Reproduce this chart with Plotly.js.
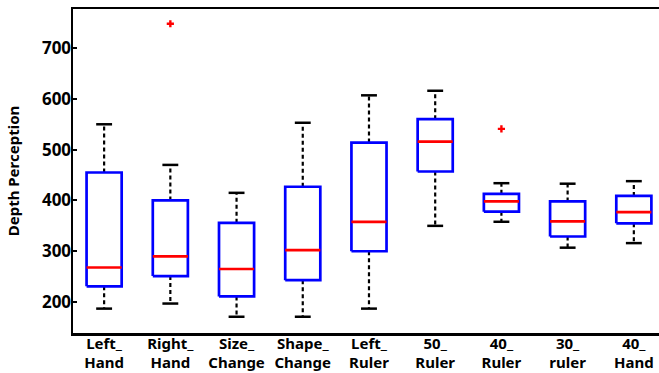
<!DOCTYPE html>
<html>
<head>
<meta charset="utf-8">
<script src="https://cdn.plot.ly/plotly-3.0.1.min.js"></script>
<style>html,body{margin:0;padding:0;background:#fff}#chart{width:659px;height:373px}</style>
</head>
<body>
<div id="chart"></div>
<script>
var categories = ['Left_<br>Hand','Right_<br>Hand','Size_<br>Change','Shape_<br>Change','Left_<br>Ruler','50_<br>Ruler','40_<br>Ruler','30_<br>ruler','40_<br>Hand'];
var lowerWhisker = [187, 197, 171, 171, 187, 350, 358, 307, 316];
var q1           = [231, 251, 211, 243, 300, 457, 378, 329, 355];
var median       = [268, 290, 265, 302, 358, 516, 398, 359, 377];
var q3           = [455, 400, 356, 427, 514, 560, 413, 398, 409];
var upperWhisker = [550, 470, 415, 553, 607, 616, 434, 433, 438];
var outlierCat   = [1, 6];
var outlierVal   = [748, 541];
var yTicks = [200, 300, 400, 500, 600, 700];

var BW = 0.265, CW = 0.12;
var pos = categories.map(function(_, i){ return i; });

var wx = [], wy = [], cx = [], cy = [], bx = [], by = [], mx = [], my = [];
pos.forEach(function(p, i){
  wx.push(p, p, null, p, p, null);
  wy.push(q3[i], upperWhisker[i], null, q1[i], lowerWhisker[i], null);
  cx.push(p-CW, p+CW, null, p-CW, p+CW, null);
  cy.push(upperWhisker[i], upperWhisker[i], null, lowerWhisker[i], lowerWhisker[i], null);
  bx.push(p-BW, p+BW, p+BW, p-BW, p-BW, null);
  by.push(q1[i], q1[i], q3[i], q3[i], q1[i], null);
  mx.push(p-BW, p+BW, null);
  my.push(median[i], median[i], null);
});

var traces = [
  {x: wx, y: wy, mode: 'lines', line: {color: '#000', width: 2.2, dash: '4px,3px'}, hoverinfo: 'skip'},
  {x: cx, y: cy, mode: 'lines', line: {color: '#000', width: 2.5}, hoverinfo: 'skip'},
  {x: bx, y: by, mode: 'lines', line: {color: '#0000ff', width: 2.7}, hoverinfo: 'skip'},
  {x: mx, y: my, mode: 'lines', line: {color: '#ff0000', width: 2.7}, hoverinfo: 'skip'},
  {x: outlierCat, y: outlierVal, mode: 'markers', marker: {symbol: 'cross', color: '#ff0000', size: 6, line: {width: 0}}, hoverinfo: 'skip'}
];

var fontFam = '"Noto Sans", "Open Sans", sans-serif';
var layout = {
  width: 659, height: 373,
  margin: {l: 73, r: 0, t: 9, b: 40, pad: 0},
  paper_bgcolor: '#fff', plot_bgcolor: '#fff',
  showlegend: false,
  xaxis: {
    range: [-0.47, 8.38],
    tickvals: pos, ticktext: categories,
    showgrid: false, zeroline: false,
    showline: true, mirror: true, linecolor: '#000', linewidth: 2.5,
    ticks: '',
    ticklabelstandoff: -5,
    tickfont: {family: fontFam, size: 15, color: '#000', weight: 'bold'}
  },
  yaxis: {
    range: [139, 777],
    tickvals: yTicks,
    showgrid: false, zeroline: false,
    showline: true, linecolor: '#000', linewidth: 2.5,
    ticks: 'inside', ticklen: 4, tickwidth: 2, tickcolor: '#000',
    ticklabelstandoff: -4,
    tickfont: {family: fontFam, size: 17, color: '#000', weight: 'bold'},
    title: {text: 'Depth Perception', font: {family: fontFam, size: 15, color: '#000', weight: 'bold'}, standoff: 19}
  }
};

Plotly.newPlot('chart', traces, layout, {displayModeBar: false, staticPlot: true});
</script>
</body>
</html>
